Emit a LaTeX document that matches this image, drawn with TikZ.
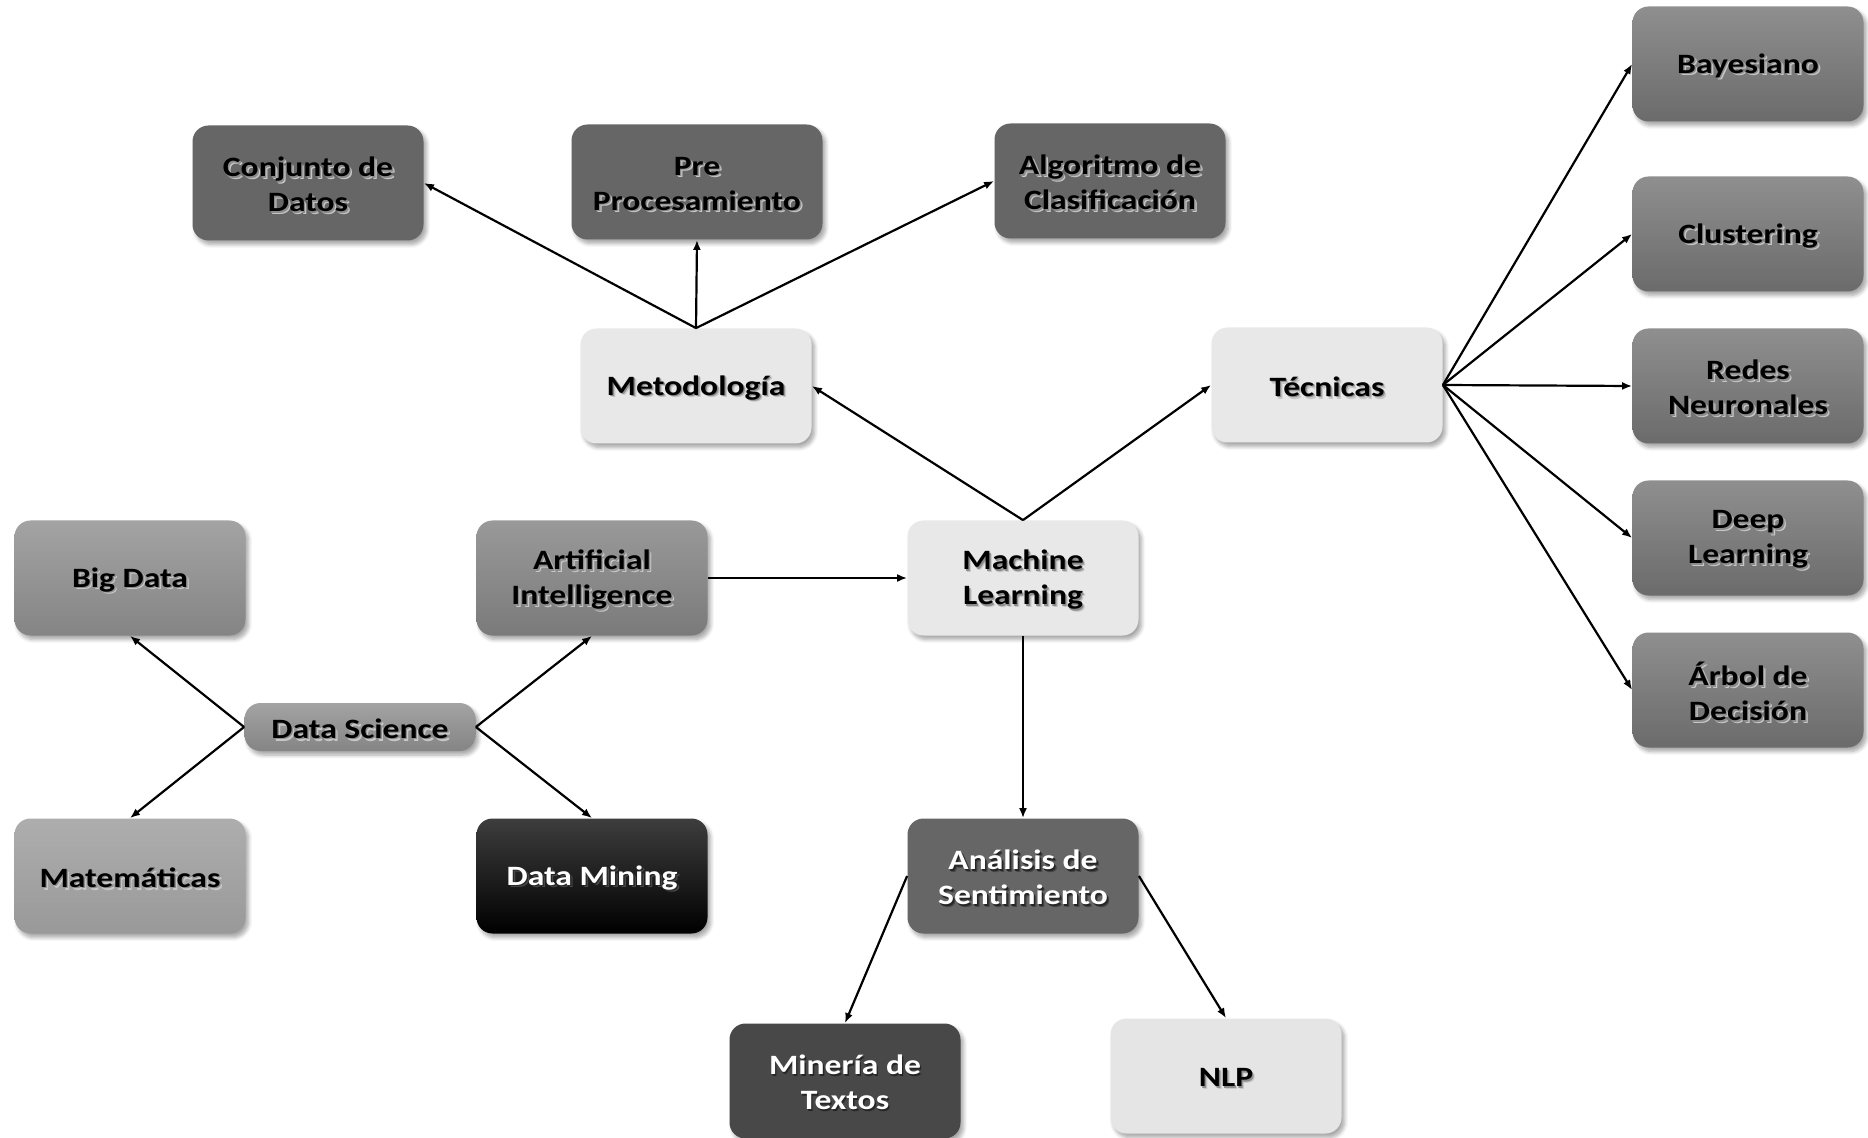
\documentclass[tikz,border=0pt]{standalone}
\usepackage{fontspec}
\setmainfont{Carlito}[FakeStretch=1.2]
\usetikzlibrary{arrows.meta,shadows.blur}

% text with a soft drop shadow, set slightly low in its box
% #1 text colour, #2 inner shadow colour, #3 outer shadow colour, #4 text
\newcommand\shadowed[4]{\leavevmode\raisebox{-1.5pt}[\height][\depth]{%
  \rlap{\hspace{1.3pt}\raisebox{-1.3pt}{\textcolor{#3}{#4}}}%
  \rlap{\hspace{0.7pt}\raisebox{-0.7pt}{\textcolor{#2}{#4}}}%
  \textcolor{#1}{#4}}}
\newcommand\tb[1]{\shadowed{black}{black!45}{black!22}{#1}}
\newcommand\tw[1]{\shadowed{white}{black!85}{black!72}{#1}}

\definecolor{dkgray}{HTML}{666666}
\definecolor{ltgray}{HTML}{E8E8E8}
\definecolor{mintx}{HTML}{484848}

\tikzset{
  box/.style={rounded corners=8pt, minimum width=115.5pt, minimum height=57.5pt,
    inner sep=2pt, align=center, font=\fontsize{14}{17.5}\selectfont\bfseries,
    blur shadow={shadow xshift=1.5pt, shadow yshift=-2pt, shadow blur steps=6,
      shadow blur extra rounding=1.5pt, shadow opacity=35}},
  darkbox/.style={box, fill=dkgray},
  lightbox/.style={box, fill=ltgray},
  techbox/.style={box, top color=black!44, bottom color=black!58},
  greybox/.style={box, top color=black!36, bottom color=black!48},
  aibox/.style={box, top color=black!40, bottom color=black!52},
  mathbox/.style={box, top color=black!32, bottom color=black!40},
  minebox/.style={box, top color=black!76, middle color=black, bottom color=black},
  textbox/.style={box, fill=mintx},
  arr/.style={-{Latex[length=5pt,width=4pt]}, line width=1.1pt, black},
}

\begin{document}
\begin{tikzpicture}[x=0.5pt, y=-0.5pt]
\useasboundingbox (0,0) rectangle (1868,1138);

% methodology branch
\node[darkbox] (cdd) at (308,183) {\tb{Conjunto de}\\\tb{Datos}};
\node[darkbox, minimum width=125.5pt] (pre) at (697,182) {\tb{Pre}\\\tb{Procesamiento}};
\node[darkbox] (alg) at (1110,181) {\tb{Algoritmo de}\\\tb{Clasificación}};
\node[lightbox] (met) at (696,386) {\tb{Metodología}};

% techniques branch
\node[lightbox] (tec) at (1327,385) {\tb{Técnicas}};
\node[techbox] (bay) at (1748,64) {\tb{Bayesiano}};
\node[techbox] (clu) at (1748,234) {\tb{Clustering}};
\node[techbox] (red) at (1748,386) {\tb{Redes}\\\tb{Neuronales}};
\node[techbox] (dee) at (1748,538) {\tb{Deep}\\\tb{Learning}};
\node[techbox] (arb) at (1748,690) {\tb{Árbol de}\\\tb{Decisión}};

% data science cluster
\node[greybox] (big) at (130,578) {\tb{Big Data}};
\node[aibox] (ai) at (592,578) {\tb{Artificial}\\\tb{Intelligence}};
\node[lightbox] (ml) at (1023,578) {\tb{Machine}\\\tb{Learning}};
\node[greybox, minimum height=24pt] (ds) at (360,727) {\tb{Data Science}};
\node[mathbox] (mat) at (130,876) {\tb{Matemáticas}};
\node[minebox] (dm) at (592,876) {\tw{Data Mining}};
\node[darkbox] (ana) at (1023,876) {\tw{Análisis de}\\\tw{Sentimiento}};

% sentiment analysis branch
\node[textbox] (min) at (845,1081) {\tw{Minería de}\\\tw{Textos}};
\node[lightbox, fill=black!10] (nlp) at (1226,1076) {\tb{NLP}};

% connectors
\draw[arr] (met.north) -- (cdd.east);
\draw[arr] (met.north) -- (pre.south);
\draw[arr] (met.north) -- (alg.west);
\draw[arr] (ml.north) -- (met.east);
\draw[arr] (ml.north) -- (tec.west);
\foreach \t in {bay,clu,red,dee,arb}
  \draw[arr] (tec.east) -- (\t.west);
\draw[arr] (ai.east) -- (ml.west);
\draw[arr] (ml.south) -- (ana.north);
\draw[arr] (ds.west) -- (big.south);
\draw[arr] (ds.west) -- (mat.north);
\draw[arr] (ds.east) -- (ai.south);
\draw[arr] (ds.east) -- (dm.north);
\draw[arr] (ana.west) -- (min.north);
\draw[arr] (ana.east) -- (nlp.north);
\end{tikzpicture}
\end{document}
